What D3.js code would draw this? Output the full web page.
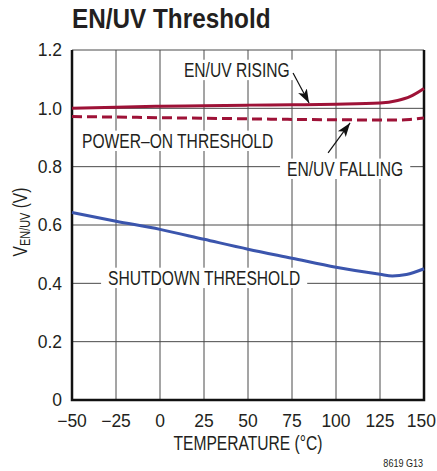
<!DOCTYPE html>
<html>
<head>
<meta charset="utf-8">
<script src="https://cdn.jsdelivr.net/npm/d3@7"></script>
<style>
  body { margin: 0; background: #fff; }
  text { font-family: "Liberation Sans", Arial, sans-serif; fill: #231f20; }
</style>
</head>
<body>
<div id="chart"></div>
<script>
// Data

let temps = [-50, -25, 0, 25, 50, 75, 100, 125, 135, 142, 150]
let rising = [1.000, 1.004, 1.007, 1.009, 1.011, 1.012, 1.014, 1.018, 1.027, 1.040, 1.068]
let falling = [0.972, 0.970, 0.968, 0.966, 0.964, 0.962, 0.961, 0.960, 0.960, 0.962, 0.967]

let sdTemps = [-50, -25, 0, 25, 50, 75, 100, 125, 132, 140, 150]
let shutdown = [0.643, 0.613, 0.585, 0.551, 0.517, 0.486, 0.455, 0.431, 0.425, 0.430, 0.450]

let xTicks = [-50, -25, 0, 25, 50, 75, 100, 125, 150]
let yTicks = [0, 0.2, 0.4, 0.6, 0.8, 1.0, 1.2]

// annotation labels and arrows, in data units
let labels = [
  { text: `EN/UV RISING`, t: 13.6, v: 1.107 },
  { text: `POWER\u2013ON THRESHOLD`, t: -44.3, v: 0.864 },
  { text: `EN/UV FALLING`, t: 72.2, v: 0.768 },
  { text: `SHUTDOWN THRESHOLD`, t: -29.5, v: 0.394 },
]
let arrows = [
  { t1: 75.6, v1: 1.121, t2: 84.7, v2: 1.018 },
  { t1: 95.5, v1: 0.847, t2: 108, v2: 0.950 },
]

// Colors

let red = `#9e1237`
let blue = `#3b55ad`
let grid = `#4a4a4a`

let width = 437
let height = 471
let plotLeft = 72, plotRight = 424, plotTop = 50, plotBottom = 400
let labelSize = 20
let narrow = 0.78

let x = d3.scaleLinear().domain([-50, 150]).range([plotLeft, plotRight])
let y = d3.scaleLinear().domain([0, 1.2]).range([plotBottom, plotTop])

// squeeze regular Liberation Sans into a condensed look
let condense = (sel, k) => sel.each(function () {
  let len = this.getComputedTextLength()
  d3.select(this)
    .attr(`textLength`, len * k)
    .attr(`lengthAdjust`, `spacingAndGlyphs`)
})

let svg = d3.select(`#chart`).append(`svg`)
  .attr(`width`, width)
  .attr(`height`, height)

// Title

svg.append(`text`)
  .attr(`x`, plotLeft)
  .attr(`y`, 28)
  .attr(`font-size`, 27)
  .attr(`font-weight`, `bold`)
  .text(`EN/UV Threshold`)
  .call(condense, 0.9)

// Grid

let g = svg.append(`g`)

g.selectAll(`.vgrid`)
  .data(xTicks.slice(1, -1))
  .join(`line`)
  .attr(`x1`, d => x(d)).attr(`x2`, d => x(d))
  .attr(`y1`, plotTop).attr(`y2`, plotBottom)
  .attr(`stroke`, grid).attr(`stroke-width`, 1)

g.selectAll(`.hgrid`)
  .data(yTicks.slice(1))
  .join(`line`)
  .attr(`x1`, plotLeft).attr(`x2`, plotRight)
  .attr(`y1`, d => y(d)).attr(`y2`, d => y(d))
  .attr(`stroke`, grid).attr(`stroke-width`, 1)

// Frame: left, bottom and right in black

svg.append(`path`)
  .attr(`d`, `M${plotLeft},${plotTop}V${plotBottom}H${plotRight}V${plotTop}`)
  .attr(`fill`, `none`)
  .attr(`stroke`, `#111`)
  .attr(`stroke-width`, 2.5)

// Tick labels

svg.selectAll(`.xlab`)
  .data(xTicks)
  .join(`text`)
  .attr(`x`, d => x(d))
  .attr(`y`, 427)
  .attr(`text-anchor`, `middle`)
  .attr(`font-size`, 17.5)
  .text(d => d < 0 ? `\u2212${-d}` : d)
  .each(function () {
    // keep the last label inside the window
    let w = this.getComputedTextLength()
    let cx = +this.getAttribute(`x`)
    this.setAttribute(`x`, Math.min(cx, width - w / 2 - 1))
  })

svg.selectAll(`.ylab`)
  .data(yTicks)
  .join(`text`)
  .attr(`x`, 62)
  .attr(`y`, d => y(d))
  .attr(`dy`, `0.36em`)
  .attr(`text-anchor`, `end`)
  .attr(`font-size`, 17.5)
  .text(d => d === 0 ? `0` : d.toFixed(1))

// Axis titles

svg.append(`text`)
  .attr(`x`, (plotLeft + plotRight) / 2)
  .attr(`y`, 450)
  .attr(`text-anchor`, `middle`)
  .attr(`font-size`, labelSize)
  .text(`TEMPERATURE (\u00b0C)`)
  .call(condense, narrow)

let yTitle = svg.append(`text`)
  .attr(`transform`, `translate(27,${(plotTop + plotBottom) / 2 - 3}) rotate(-90) scale(${narrow},1)`)
  .attr(`text-anchor`, `middle`)
  .attr(`font-size`, labelSize)
yTitle.append(`tspan`).text(`V`)
yTitle.append(`tspan`).attr(`font-size`, 14).attr(`dy`, 3).text(`EN/UV`)
yTitle.append(`tspan`).attr(`dy`, -3).text(` (V)`)

svg.append(`text`)
  .attr(`x`, 423)
  .attr(`y`, 467)
  .attr(`text-anchor`, `end`)
  .attr(`font-size`, 11)
  .text(`8619 G13`)
  .call(condense, 0.82)

// Curves

let line = (xs, ys) => d3.line()
  .x((d, i) => x(xs[i]))
  .y(d => y(d))
  .curve(d3.curveMonotoneX)(ys)

svg.append(`path`)
  .attr(`d`, line(sdTemps, shutdown))
  .attr(`fill`, `none`).attr(`stroke`, blue).attr(`stroke-width`, 3)

svg.append(`path`)
  .attr(`d`, line(temps, falling))
  .attr(`fill`, `none`).attr(`stroke`, red).attr(`stroke-width`, 3)
  .attr(`stroke-dasharray`, `10,5`)

svg.append(`path`)
  .attr(`d`, line(temps, rising))
  .attr(`fill`, `none`).attr(`stroke`, red).attr(`stroke-width`, 3)

// Labels with white boxes behind them

labels.forEach(d => {
  let t = svg.append(`text`)
    .attr(`x`, x(d.t))
    .attr(`y`, y(d.v))
    .attr(`font-size`, labelSize)
    .text(d.text)
    .call(condense, narrow)
  let w = +t.attr(`textLength`)
  let cap = labelSize * 0.72
  svg.insert(`rect`, () => t.node())
    .attr(`x`, x(d.t) - 7).attr(`y`, y(d.v) - cap - 3)
    .attr(`width`, w + 14).attr(`height`, cap + 6)
    .attr(`fill`, `#fff`)
})

// Arrows

svg.append(`defs`).append(`marker`)
  .attr(`id`, `head`)
  .attr(`viewBox`, `0 0 10 10`)
  .attr(`refX`, 10).attr(`refY`, 5)
  .attr(`markerUnits`, `userSpaceOnUse`)
  .attr(`markerWidth`, 14).attr(`markerHeight`, 14)
  .attr(`orient`, `auto`)
  .append(`path`)
  .attr(`d`, `M0,1.5L10,5L0,8.5L2.5,5Z`)
  .attr(`fill`, `#111`)

svg.selectAll(`.arrow`)
  .data(arrows)
  .join(`line`)
  .attr(`x1`, d => x(d.t1)).attr(`y1`, d => y(d.v1))
  .attr(`x2`, d => x(d.t2)).attr(`y2`, d => y(d.v2))
  .attr(`stroke`, `#111`).attr(`stroke-width`, 1.2)
  .attr(`marker-end`, `url(#head)`)
</script>
</body>
</html>
